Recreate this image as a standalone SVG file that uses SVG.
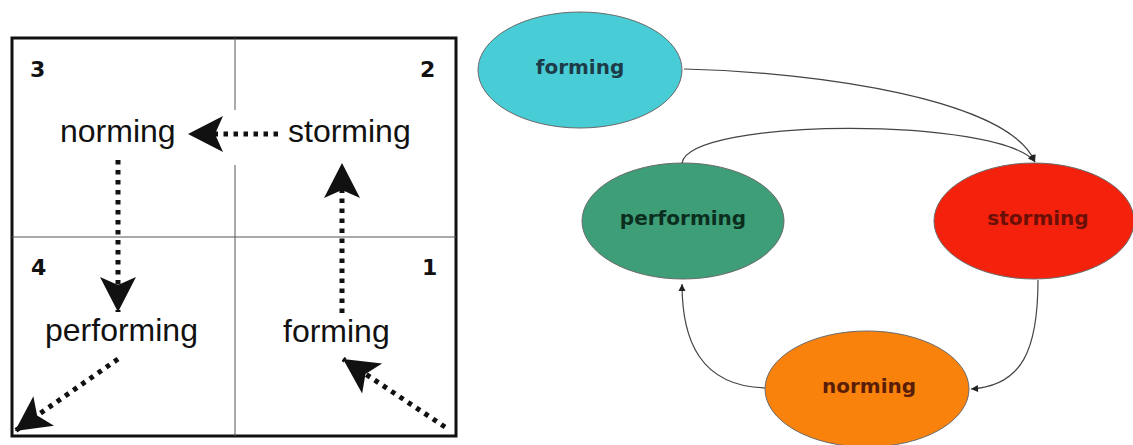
<svg xmlns="http://www.w3.org/2000/svg" width="1133" height="445" viewBox="0 0 1133 445">
<style>
  .num { font-family: "DejaVu Sans", sans-serif; font-weight: bold; font-size: 22px; fill: #111; }
  .lbl { font-family: "Liberation Sans", Arial, sans-serif; font-size: 32px; fill: #111; }
  .dot { stroke: #111; stroke-width: 5; stroke-dasharray: 4.5 5.5; fill: none; marker-end: url(#barb); }
  .div { stroke: #555; stroke-width: 1; }
  .st { font-family: "DejaVu Sans", sans-serif; font-weight: bold; font-size: 20px; text-anchor: middle; }
  .ell { stroke: #6a6a6a; stroke-width: 1; }
  .con { stroke: #444; stroke-width: 1.2; fill: none; marker-end: url(#tri); }
</style>
<defs>
  <marker id="barb" markerUnits="userSpaceOnUse" markerWidth="40" markerHeight="40" refX="35" refY="18" orient="auto" overflow="visible">
    <path d="M35,18 L0,0 L8,18 L0,36 Z" fill="#111"/>
  </marker>
  <marker id="tri" markerUnits="userSpaceOnUse" markerWidth="10" markerHeight="10" refX="7" refY="3.5" orient="auto" overflow="visible">
    <path d="M0,0 L7,3.5 L0,7 Z" fill="#222"/>
  </marker>
</defs>
<rect width="1133" height="445" fill="#fff"/>

<g id="quadrant-frame">
  <rect x="12" y="38" width="444" height="398" fill="none" stroke="#111" stroke-width="3"/>
  <line class="div" x1="235" y1="38" x2="235" y2="110"/>
  <line class="div" x1="235" y1="165" x2="235" y2="436"/>
  <line class="div" x1="12" y1="237" x2="456" y2="237"/>
  <text class="num" x="30" y="77">3</text>
  <text class="num" x="420" y="77">2</text>
  <text class="num" x="31" y="275">4</text>
  <text class="num" x="422" y="275">1</text>
</g>

<g id="q-norming"><text class="lbl" x="60" y="142">norming</text></g>
<g id="q-storming"><text class="lbl" x="288" y="142">storming</text></g>
<g id="q-performing"><text class="lbl" x="45" y="341">performing</text></g>
<g id="q-forming"><text class="lbl" x="283" y="342">forming</text></g>

<g id="q-connectors">
  <line class="dot" x1="278" y1="134" x2="188" y2="134"/>
  <line class="dot" x1="118" y1="160" x2="118" y2="312"/>
  <line class="dot" x1="342" y1="313" x2="342" y2="163"/>
  <line class="dot" x1="445" y1="427" x2="343" y2="359"/>
  <line class="dot" x1="118" y1="359" x2="15" y2="431"/>
</g>

<g id="forming">
  <ellipse class="ell" cx="580" cy="70" rx="102" ry="58" fill="#48CCD6"/>
  <text class="st" x="580" y="74" fill="#1d3c48">forming</text>
</g>
<g id="performing">
  <ellipse class="ell" cx="683" cy="221" rx="101" ry="58" fill="#3D9E78"/>
  <text class="st" x="683" y="225" fill="#0c2e1e">performing</text>
</g>
<g id="storming">
  <ellipse class="ell" cx="1034" cy="221" rx="100" ry="58" fill="#F4220C"/>
  <text class="st" x="1038" y="225" fill="#6a1008">storming</text>
</g>
<g id="norming">
  <ellipse class="ell" cx="867" cy="389" rx="102" ry="58" fill="#F9820C"/>
  <text class="st" x="869" y="393" fill="#5a1e08">norming</text>
</g>

<g id="connectors">
  <path class="con" d="M684,69 C820,72 1010,100 1035,162"/>
  <path class="con" d="M682,163 C690,117 1000,117 1035,162"/>
  <path class="con" d="M1038,280 C1038,350 1022,386 971,389"/>
  <path class="con" d="M765,388 C700,386 682,340 682,284"/>
</g>
</svg>
